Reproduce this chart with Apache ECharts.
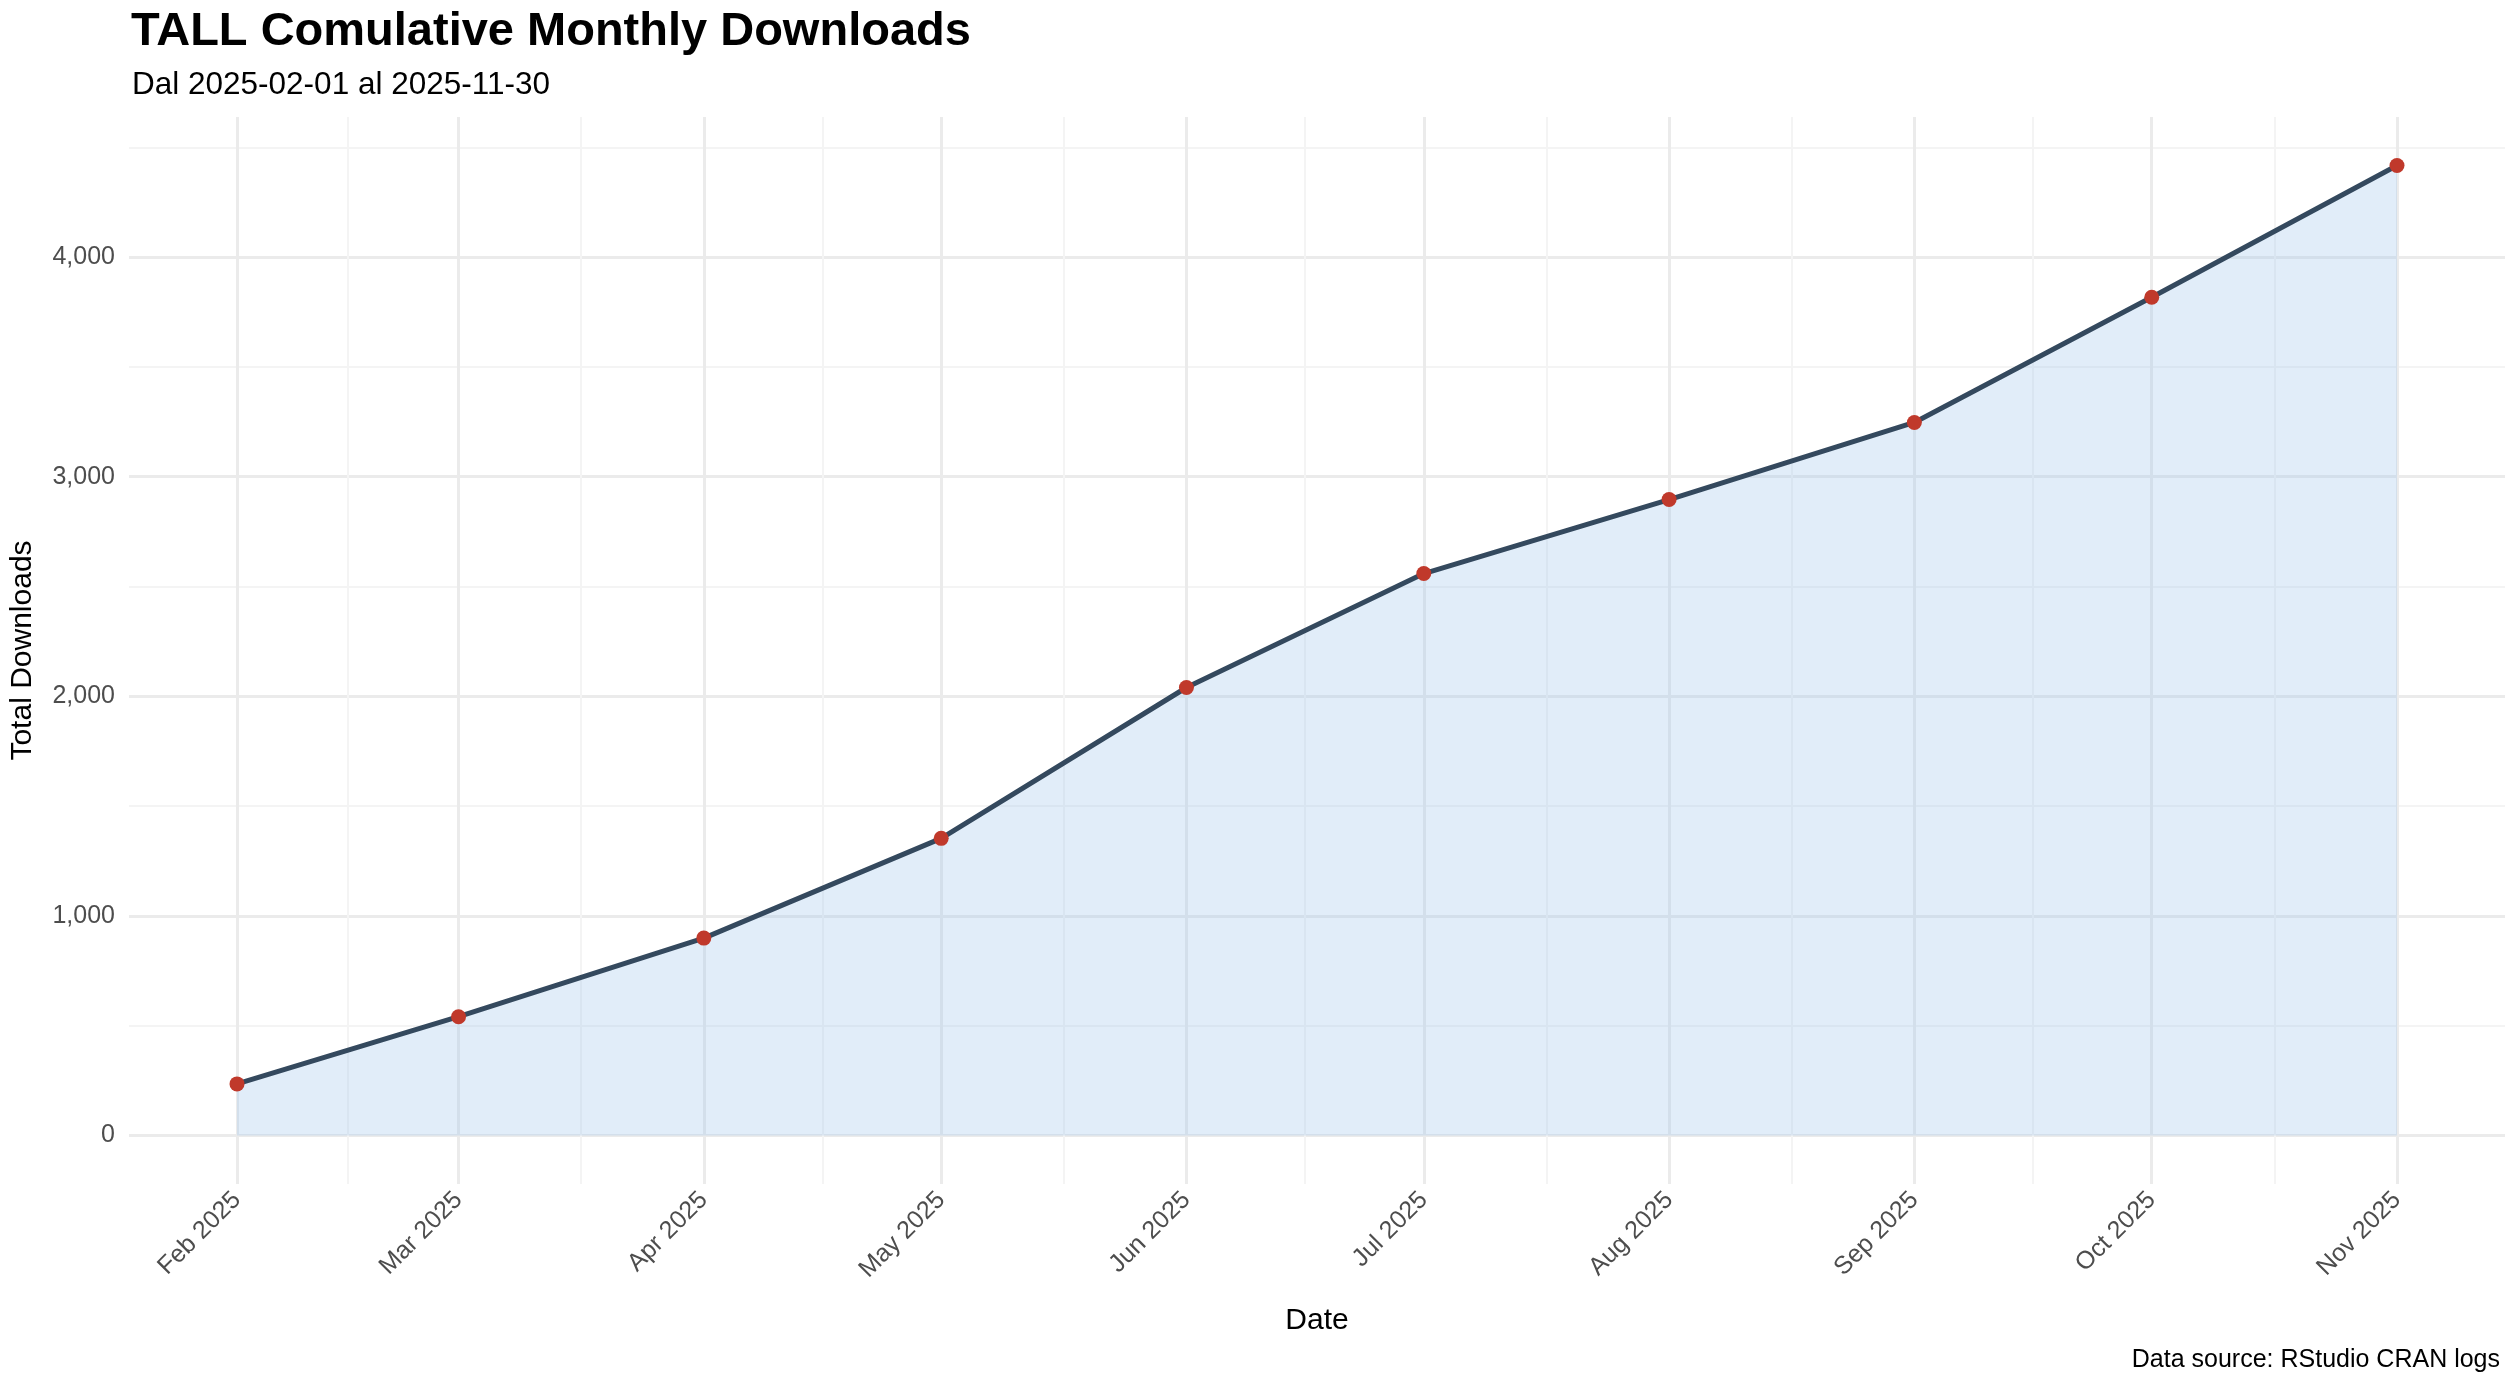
<!DOCTYPE html>
<html><head><meta charset="utf-8">
<script src="https://cdn.jsdelivr.net/npm/echarts@6/dist/echarts.min.js"></script>
<style>html,body{margin:0;padding:0;background:#fff}#c{width:2518px;height:1382px}</style>
</head><body><div id="c"></div>
<script>
const dates = ['2025-02-01','2025-03-01','2025-04-01','2025-05-01','2025-06-01','2025-07-01','2025-08-01','2025-09-01','2025-10-01','2025-11-01'];
const tickLabels = ['Feb 2025','Mar 2025','Apr 2025','May 2025','Jun 2025','Jul 2025','Aug 2025','Sep 2025','Oct 2025','Nov 2025'];
const downloads = [235, 541, 899, 1353, 2040, 2559, 2896, 3247, 3817, 4417];
const yTicks = [0, 1000, 2000, 3000, 4000];
const yMinor = [500, 1500, 2500, 3500, 4500];

const DAY = 86400000;
const ts = dates.map(d => Math.round(Date.parse(d + 'T00:00:00Z')/DAY));
const span = ts[ts.length-1] - ts[0];
const xMin = ts[0] - span*0.05, xMax = ts[ts.length-1] + span*0.05;
const xMid = [];
for (let i=0;i<ts.length-1;i++) xMid.push((ts[i]+ts[i+1])/2);
xMid.unshift(ts[0] - (ts[1]-ts[0])/2);
xMid.push(ts[ts.length-1] + (ts[ts.length-1]-ts[ts.length-2])/2);
const yMaxV = Math.max(...downloads);
const yMin = -yMaxV*0.05, yMax = yMaxV*1.05;
const lblMap = {}; ts.forEach((t,i)=>lblMap[t]=tickLabels[i]);
const F = 'Liberation Sans, Arial, sans-serif';

const chart = echarts.init(document.getElementById('c'));
chart.setOption({
  backgroundColor:'#fff',
  animation:false,
  title:[
    {text:'TALL Comulative Monthly Downloads', left:126, top:4, textStyle:{fontFamily:F,fontSize:47,fontWeight:'bold',color:'#000'}},
    {text:'Dal 2025-02-01 al 2025-11-30', left:127, top:64, textStyle:{fontFamily:F,fontSize:31.5,fontWeight:'normal',color:'#000'}},
    {text:'Data source: RStudio CRAN logs', right:13, top:1343, textStyle:{fontFamily:F,fontSize:25,fontWeight:'normal',color:'#000'}}
  ],
  grid:{left:119, right:13, top:117, bottom:198},
  xAxis:[
    {type:'value', min:xMin, max:xMax, name:'Date', nameLocation:'middle', nameGap:122,
     nameTextStyle:{fontFamily:F,fontSize:30,color:'#000'},
     axisLine:{show:false}, axisTick:{show:false, customValues:ts},
     axisLabel:{customValues:ts, rotate:45, fontFamily:F, fontSize:25, color:'#4d4d4d', margin:12,
       formatter:v=>lblMap[Math.round(v)]||''},
     splitLine:{show:true, lineStyle:{color:'#ebebeb',width:3}}},
    {type:'value', min:xMin, max:xMax, position:'bottom', axisLine:{show:false}, axisTick:{show:false, customValues:xMid},
     axisLabel:{show:false, customValues:xMid},
     splitLine:{show:true, lineStyle:{color:'#f4f4f4',width:2}}, z:0}
  ],
  yAxis:[
    {type:'value', min:yMin, max:yMax, name:'Total Downloads', nameLocation:'middle', nameGap:91,
     nameTextStyle:{fontFamily:F,fontSize:30,color:'#000'},
     axisLine:{show:false}, axisTick:{show:false, customValues:yTicks},
     axisLabel:{customValues:yTicks, fontFamily:F, fontSize:25, color:'#4d4d4d', margin:14,
       formatter:v=>v.toLocaleString('en-US')},
     splitLine:{show:true, lineStyle:{color:'#ebebeb',width:3}}},
    {type:'value', min:yMin, max:yMax, axisLine:{show:false}, axisTick:{show:false, customValues:yMinor},
     axisLabel:{show:false, customValues:yMinor},
     splitLine:{show:true, lineStyle:{color:'#f4f4f4',width:2}}, z:0}
  ],
  series:[{
    type:'line', data:ts.map((t,i)=>[t,downloads[i]]),
    lineStyle:{color:'#34495e',width:5},
    areaStyle:{color:'rgba(160,198,236,0.45)', origin:0},
    symbol:'circle', symbolSize:15,
    itemStyle:{color:'#c0392b'}, z:5
  }]
});
</script></body></html>
